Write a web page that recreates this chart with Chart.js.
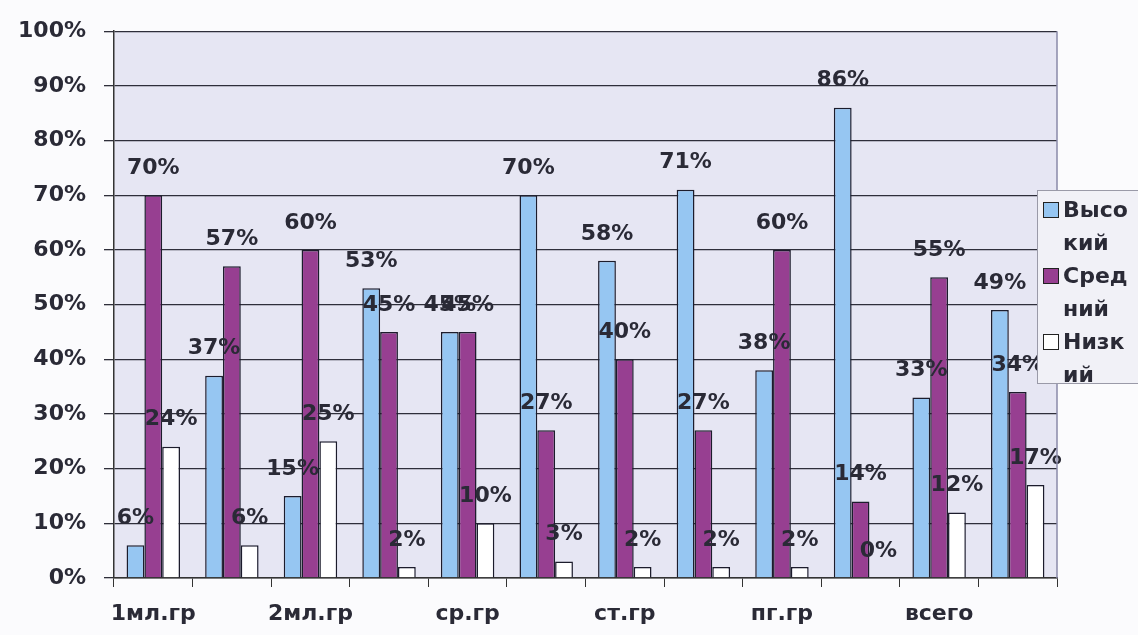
<!DOCTYPE html>
<html>
<head>
<meta charset="utf-8">
<script src="https://cdn.jsdelivr.net/npm/chart.js@4.4.1/dist/chart.umd.min.js"></script>
<style>
  html, body { margin: 0; padding: 0; background: #fbfbfd; }
  #wrap { position: relative; width: 1138px; height: 635px; }
  #legend {
    position: absolute; left: 1037px; top: 190px; width: 101px; height: 194px;
    box-sizing: border-box; border: 1px solid #9a9aa8; border-right: none;
    background: #f1f1f7; padding: 2px 0 0 5px;
    font: bold 22px "DejaVu Sans", sans-serif; color: #2a2a36;
  }
  #legend .item { display: flex; align-items: flex-start; line-height: 33px; }
  #legend .box { width: 14px; height: 14px; border: 1.5px solid #222; margin: 9px 4px 0 0; flex: none; }
  #legend .txt { width: 74px; word-break: break-all; }
</style>
</head>
<body>
<div id="wrap">
  <canvas id="chart" width="1138" height="635"></canvas>
  <div id="legend"></div>
</div>
<script>
// groups: only every other one is labelled on the axis
const categories = ['1мл.гр', '', '2мл.гр', '', 'ср.гр', '', 'ст.гр', '', 'пг.гр', '', 'всего', ''];
const seriesNames = ['Высокий', 'Средний', 'Низкий'];
const high   = [6, 37, 15, 53, 45, 70, 58, 71, 38, 86, 33, 49];
const middle = [70, 57, 60, 45, 45, 27, 40, 27, 60, 14, 55, 34];
const low    = [24, 6, 25, 2, 10, 3, 2, 2, 2, 0, 12, 17];
const yTicks = [0, 10, 20, 30, 40, 50, 60, 70, 80, 90, 100];

const colors = ['#96c6f2', '#973f91', '#ffffff'];
const FONT = '"DejaVu Sans", sans-serif';
const TEXT = '#2a2a36';

// plot background + frame
const frame = {
    id: 'frame',
    beforeDraw(chart) {
        const { ctx, chartArea: a } = chart;
        ctx.save();
        ctx.fillStyle = '#e6e6f3';
        ctx.fillRect(a.left, a.top, a.right - a.left, a.bottom - a.top);
        ctx.restore();
    },
    afterDraw(chart) {
        const { ctx, chartArea: a } = chart;
        ctx.save();
        ctx.strokeStyle = '#8a8aa8';
        ctx.lineWidth = 1.5;
        ctx.beginPath();
        ctx.moveTo(a.right, a.top);
        ctx.lineTo(a.right, a.bottom);
        ctx.stroke();
        ctx.restore();
    }
};

// value labels above each bar
const valueLabels = {
    id: 'valueLabels',
    afterDatasetsDraw(chart) {
        const { ctx } = chart;
        ctx.save();
        ctx.font = 'bold 22px ' + FONT;
        ctx.fillStyle = TEXT;
        ctx.textAlign = 'center';
        ctx.textBaseline = 'bottom';
        chart.data.datasets.forEach((ds, i) => {
            chart.getDatasetMeta(i).data.forEach((bar, j) => {
                ctx.fillText(ds.data[j] + '%', bar.x, bar.y - 16);
            });
        });
        ctx.restore();
    }
};

const chart = new Chart(document.getElementById('chart'), {
    type: 'bar',
    data: {
        labels: categories,
        datasets: [high, middle, low].map((d, i) => ({
            label: seriesNames[i],
            data: d,
            backgroundColor: colors[i],
            borderColor: '#1c1c2c',
            borderWidth: 1.5,
            barPercentage: 1.0,
            categoryPercentage: 0.68
        }))
    },
    options: {
        responsive: false,
        animation: false,
        layout: { padding: { top: 25, right: 81, left: 0, bottom: 0 } },
        plugins: {
            legend: { display: false },
            tooltip: { enabled: false }
        },
        scales: {
            x: {
                grid: {
                    offset: true,
                    drawOnChartArea: false,
                    drawTicks: true,
                    tickLength: 9,
                    color: '#333'
                },
                border: { color: '#333', width: 1.5 },
                ticks: {
                    autoSkip: false,
                    maxRotation: 0,
                    padding: 14,
                    color: TEXT,
                    font: { family: FONT, size: 22, weight: 'bold' }
                },
                afterFit(scale) { scale.height = 57; }
            },
            y: {
                min: 0,
                max: 100,
                afterBuildTicks(scale) { scale.ticks = yTicks.map(v => ({ value: v })); },
                grid: { color: '#2e2e3a', lineWidth: 1.3, tickLength: 10 },
                border: { color: '#333', width: 1.5 },
                ticks: {
                    padding: 18,
                    color: TEXT,
                    font: { family: FONT, size: 22, weight: 'bold' },
                    callback: v => v + '%'
                },
                afterFit(scale) { scale.width = 114; }
            }
        }
    },
    plugins: [frame, valueLabels]
});

// legend box on the right, text breaks inside words like the original
const legendEl = document.getElementById('legend');
chart.data.datasets.forEach(ds => {
    const item = document.createElement('div');
    item.className = 'item';
    item.innerHTML = '<span class="box" style="background:' + ds.backgroundColor + '"></span>' +
        '<span class="txt">' + ds.label + '</span>';
    legendEl.appendChild(item);
});
</script>
</body>
</html>
